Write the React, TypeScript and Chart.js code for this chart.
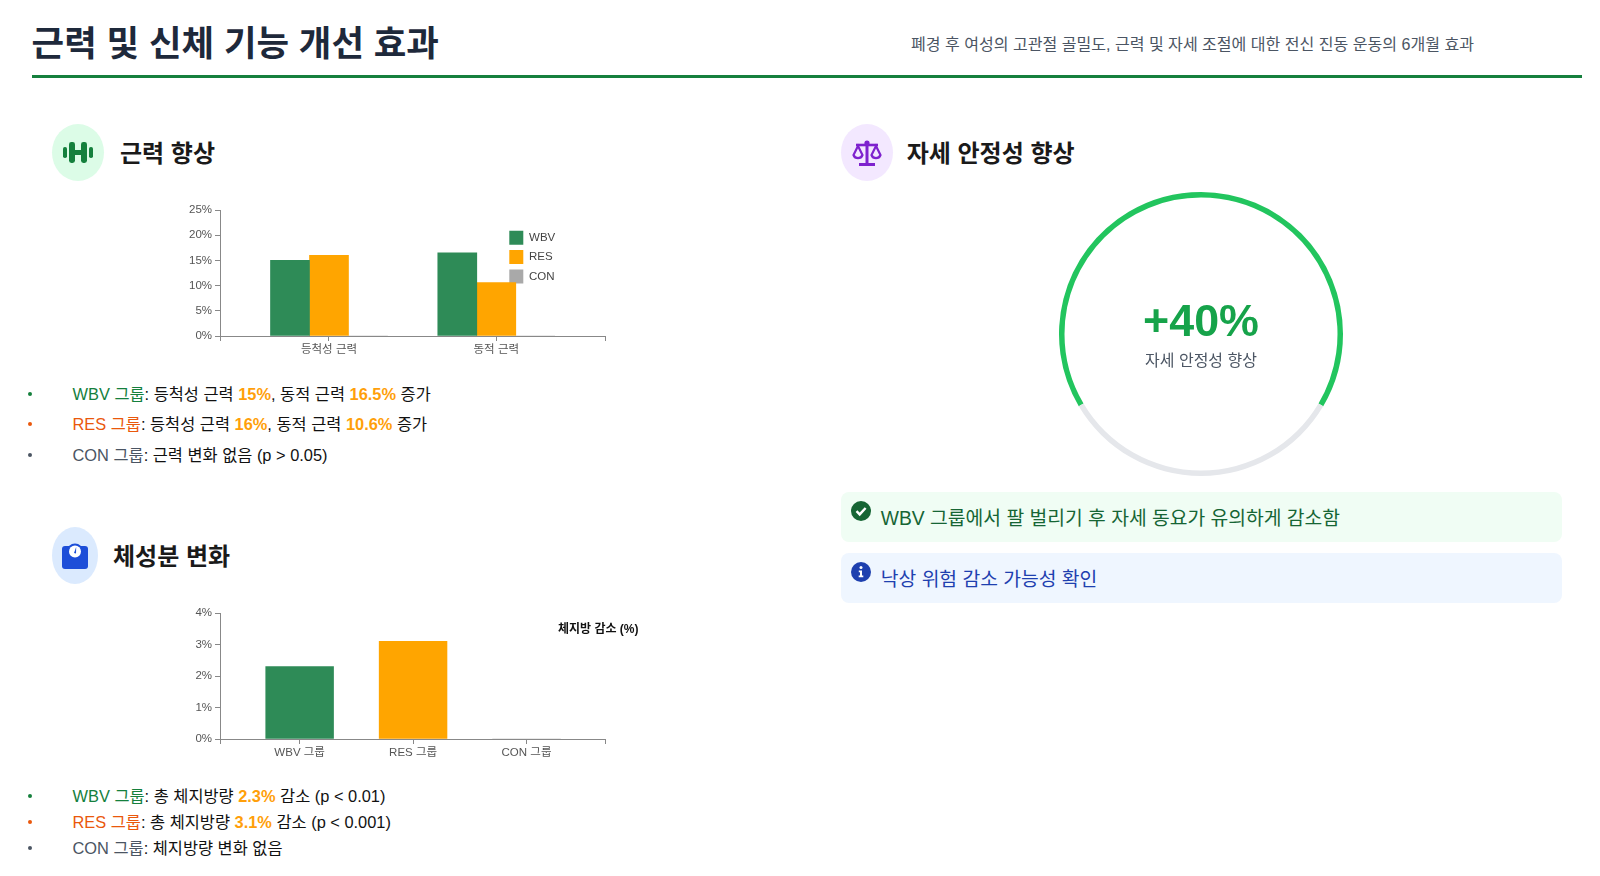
import { useEffect, useRef } from "react";
import type { CSSProperties, ReactNode } from "react";
import { Chart, registerables } from "chart.js";

Chart.register(...registerables);

const FONT = '"Liberation Sans", "Noto Sans CJK KR", sans-serif';

const strengthCategories = ["등척성 근력", "동적 근력"];
const strengthWbv = [15, 16.5];
const strengthRes = [16, 10.6];
const strengthCon = [0, 0];
const strengthTicks = [0, 5, 10, 15, 20, 25];

const fatGroups = ["WBV 그룹", "RES 그룹", "CON 그룹"];
const fatLoss = [2.3, 3.1, 0];
const fatTicks = [0, 1, 2, 3, 4];

const ringLabels = ["향상", "나머지"];
const ringValues = [67, 33];

const GREEN = "#2E8B57";
const ORANGE = "#FFA500";
const GREY = "#A9A9A9";

// moves the legend to a fixed spot inside the canvas
const legendAt = (left: number, top: number) => ({
  id: "legendAt",
  afterLayout(chart: any) {
    const lg = chart.legend;
    lg.left = left;
    lg.top = top;
    lg.right = chart.width;
    lg.bottom = chart.height;
  },
});

// shared axis setup: linear x so the bands can sit inset from the axis ends
function axes(labels: string[], min: number, max: number, yTicks: number[]) {
  return {
    x: {
      type: "linear",
      min,
      max,
      offset: false,
      afterFit: (s: any) => {
        s.height = 34;
      },
      afterBuildTicks: (s: any) => {
        s.ticks = [min, ...labels.map((_, i) => i), max].map((value) => ({ value }));
      },
      border: { color: "#888888", width: 1 },
      grid: { offset: false, drawOnChartArea: false, tickLength: 5, color: "#888888" },
      ticks: {
        autoSkip: false,
        maxRotation: 0,
        color: "#555555",
        padding: 2,
        font: { family: FONT, size: 11.5 },
        callback: (v: number) => labels[v] ?? "",
      },
    },
    y: {
      min: yTicks[0],
      max: yTicks[yTicks.length - 1],
      afterFit: (s: any) => {
        s.width = 60;
      },
      afterBuildTicks: (s: any) => {
        s.ticks = yTicks.map((value) => ({ value }));
      },
      border: { color: "#888888", width: 1 },
      grid: { drawOnChartArea: false, tickLength: 5, color: "#888888" },
      ticks: {
        color: "#555555",
        padding: 3,
        font: { family: FONT, size: 11.5 },
        callback: (v: number) => v + "%",
      },
    },
  };
}

function useChart(make: (el: HTMLCanvasElement) => Chart) {
  const ref = useRef<HTMLCanvasElement | null>(null);
  useEffect(() => {
    if (!ref.current) return;
    const chart = make(ref.current);
    return () => chart.destroy();
  }, []);
  return ref;
}

function StrengthChart() {
  const ref = useChart(
    (el) =>
      new Chart(el, {
        type: "bar",
        data: {
          datasets: [
            { label: "WBV", data: strengthWbv.map((y, x) => ({ x, y })), backgroundColor: GREEN },
            { label: "RES", data: strengthRes.map((y, x) => ({ x, y })), backgroundColor: ORANGE },
            { label: "CON", data: strengthCon.map((y, x) => ({ x, y })), backgroundColor: GREY },
          ],
        },
        options: {
          animation: false,
          responsive: false,
          layout: { padding: { top: 20, right: 54.3, left: 0, bottom: 0 } },
          datasets: { bar: { barThickness: 39 } },
          plugins: {
            tooltip: { enabled: false },
            legend: {
              position: "chartArea",
              align: "start",
              labels: {
                boxWidth: 14,
                boxHeight: 14,
                padding: 5.3,
                color: "#444444",
                font: { family: FONT, size: 11.5 },
              },
            },
          },
          scales: axes(strengthCategories, -0.6515, 1.654, strengthTicks),
        },
        plugins: [legendAt(344, 35.5)],
      } as any)
  );
  return (
    <canvas
      ref={ref}
      width={500}
      height={180}
      style={{ position: "absolute", left: 160, top: 190, width: 500, height: 180 }}
    />
  );
}

function FatChart() {
  const ref = useChart(
    (el) =>
      new Chart(el, {
        type: "bar",
        data: {
          datasets: [
            {
              label: "체지방 감소 (%)",
              data: fatLoss.map((y, x) => ({ x, y })),
              backgroundColor: [GREEN, ORANGE, GREY],
            },
          ],
        },
        options: {
          animation: false,
          responsive: false,
          layout: { padding: { top: 20, right: 54.3, left: 0, bottom: 0 } },
          datasets: { bar: { barThickness: 67.8 } },
          plugins: {
            tooltip: { enabled: false },
            legend: {
              position: "chartArea",
              align: "start",
              labels: {
                boxWidth: 0,
                padding: 5,
                color: "#111111",
                font: { family: FONT, size: 12, weight: "bold" },
              },
            },
          },
          scales: axes(fatGroups, -0.702, 2.698, fatTicks),
        },
        plugins: [legendAt(387, 26)],
      } as any)
  );
  return (
    <canvas
      ref={ref}
      width={500}
      height={180}
      style={{ position: "absolute", left: 160, top: 593.3, width: 500, height: 180 }}
    />
  );
}

function RingChart() {
  const ref = useChart(
    (el) =>
      new Chart(el, {
        type: "doughnut",
        data: {
          labels: ringLabels,
          datasets: [{ data: ringValues, backgroundColor: ["#22c55e", "#e5e7eb"], borderWidth: 0 }],
        },
        options: {
          animation: false,
          responsive: false,
          rotation: -120.6,
          cutout: 136.5,
          layout: { padding: 0 },
          plugins: { legend: { display: false }, tooltip: { enabled: false } },
        },
      } as any)
  );
  return (
    <canvas
      ref={ref}
      width={284}
      height={284}
      style={{ position: "absolute", left: 1059, top: 191.7, width: 284, height: 284 }}
    />
  );
}

function Text({
  x,
  cy,
  size,
  color,
  bold,
  center,
  children,
}: {
  x: number;
  cy: number;
  size: number;
  color: string;
  bold?: boolean;
  center?: boolean;
  children: ReactNode;
}) {
  const style: CSSProperties = {
    position: "absolute",
    left: x,
    top: cy - 20,
    height: 40,
    lineHeight: "40px",
    fontSize: size,
    color,
    fontWeight: bold ? 700 : 400,
    whiteSpace: "nowrap",
    transform: center ? "translateX(-50%)" : undefined,
  };
  return <div style={style}>{children}</div>;
}

function Badge({
  x,
  y,
  w,
  bg,
  children,
}: {
  x: number;
  y: number;
  w: number;
  bg: string;
  children: ReactNode;
}) {
  return (
    <div
      style={{
        position: "absolute",
        left: x,
        top: y,
        width: w,
        height: 57,
        borderRadius: "50%",
        background: bg,
        display: "flex",
        alignItems: "center",
        justifyContent: "center",
      }}
    >
      {children}
    </div>
  );
}

function Bullet({ cy, color, label, children }: { cy: number; color: string; label: string; children: ReactNode }) {
  return (
    <>
      <div
        style={{
          position: "absolute",
          left: 28,
          top: cy - 2,
          width: 4,
          height: 4,
          borderRadius: "50%",
          background: color,
        }}
      />
      <Text x={72.5} cy={cy} size={16.4} color="#111111">
        <span style={{ color }}>{label}</span>
        {children}
      </Text>
    </>
  );
}

const Hi = ({ children }: { children: ReactNode }) => (
  <b style={{ color: "#FF9F0A" }}>{children}</b>
);

const Dumbbell = () => (
  <svg width="30" height="21" viewBox="0 0 30 21" fill="#15803d">
    <rect x="0" y="5" width="4" height="11" rx="1.8" />
    <rect x="6" y="0" width="6" height="21" rx="2.4" />
    <rect x="11" y="8" width="8" height="5" />
    <rect x="18" y="0" width="6" height="21" rx="2.4" />
    <rect x="26" y="5" width="4" height="11" rx="1.8" />
  </svg>
);

const WeightScale = () => (
  <svg width="26" height="26" viewBox="0 0 26 26">
    <path d="M3 3h20a3 3 0 0 1 3 3v17a3 3 0 0 1-3 3H3a3 3 0 0 1-3-3V6a3 3 0 0 1 3-3z" fill="#1d4ed8" />
    <circle cx="13" cy="8.5" r="8" fill="#1d4ed8" />
    <circle cx="13" cy="8.5" r="6" fill="#ffffff" />
    <path d="M14.2 4 L12 10 L14 10.6 Z" fill="#1d4ed8" />
  </svg>
);

const Balance = () => (
  <svg width="30" height="26" viewBox="0 0 30 26" fill="none" stroke="#7e22ce" strokeWidth="2.2">
    <path d="M4 5h22" strokeWidth="2.6" />
    <path d="M15 1v22" strokeWidth="3" />
    <path d="M7 24.5h16" strokeWidth="3" />
    <circle cx="15" cy="3" r="2.6" fill="#7e22ce" stroke="none" />
    <path d="M6 6 L1.5 15 a4.8 4.8 0 0 0 9 0 Z" />
    <path d="M24 6 L19.5 15 a4.8 4.8 0 0 0 9 0 Z" />
  </svg>
);

const CheckDot = () => (
  <svg width="20" height="20" viewBox="0 0 20 20">
    <circle cx="10" cy="10" r="10" fill="#166534" />
    <path d="M5.5 10.2 L8.7 13.4 L14.6 7" fill="none" stroke="#ffffff" strokeWidth="2.4" />
  </svg>
);

const InfoDot = () => (
  <svg width="20" height="20" viewBox="0 0 20 20">
    <circle cx="10" cy="10" r="10" fill="#1e40af" />
    <circle cx="10" cy="5.6" r="1.5" fill="#ffffff" />
    <path d="M7.8 8.6h3.2v5h1.3v1.6H7.7v-1.6H9v-3.4H7.8z" fill="#ffffff" />
  </svg>
);

function Callout({ top, h, bg, color, icon, cy, children }: any) {
  return (
    <>
      <div
        style={{
          position: "absolute",
          left: 840.7,
          top,
          width: 721.5,
          height: h,
          borderRadius: 8,
          background: bg,
        }}
      />
      <div style={{ position: "absolute", left: 850.5, top: cy - 14, width: 20, height: 20 }}>{icon}</div>
      <Text x={880.8} cy={cy + 4} size={19.3} color={color}>
        {children}
      </Text>
    </>
  );
}

export default function App() {
  return (
    <div
      style={{
        position: "absolute",
        left: 0,
        top: 0,
        width: 1600,
        height: 876,
        overflow: "hidden",
        background: "#ffffff",
        fontFamily: FONT,
      }}
    >
      <Text x={31.6} cy={44} size={35.4} color="#1e293b" bold>
        근력 및 신체 기능 개선 효과
      </Text>
      <Text x={911} cy={44} size={16.06} color="#4b5563">
        폐경 후 여성의 고관절 골밀도, 근력 및 자세 조절에 대한 전신 진동 운동의 6개월 효과
      </Text>
      <div style={{ position: "absolute", left: 31.6, top: 74.5, width: 1550.4, height: 3, background: "#15803d" }} />

      <Badge x={52} y={124} w={52} bg="#dcfce7">
        <Dumbbell />
      </Badge>
      <Text x={120} cy={154} size={24} color="#1a1a1a" bold>
        근력 향상
      </Text>
      <StrengthChart />
      <Bullet cy={393.5} color="#15803d" label="WBV 그룹">
        : 등척성 근력 <Hi>15%</Hi>, 동적 근력 <Hi>16.5%</Hi> 증가
      </Bullet>
      <Bullet cy={424} color="#ea580c" label="RES 그룹">
        : 등척성 근력 <Hi>16%</Hi>, 동적 근력 <Hi>10.6%</Hi> 증가
      </Bullet>
      <Bullet cy={454.5} color="#4b5563" label="CON 그룹">
        : 근력 변화 없음 (p &gt; 0.05)
      </Bullet>

      <Badge x={52} y={527} w={46} bg="#dbeafe">
        <WeightScale />
      </Badge>
      <Text x={113} cy={557} size={24} color="#1a1a1a" bold>
        체성분 변화
      </Text>
      <FatChart />
      <Bullet cy={796.2} color="#15803d" label="WBV 그룹">
        : 총 체지방량 <Hi>2.3%</Hi> 감소 (p &lt; 0.01)
      </Bullet>
      <Bullet cy={821.8} color="#ea580c" label="RES 그룹">
        : 총 체지방량 <Hi>3.1%</Hi> 감소 (p &lt; 0.001)
      </Bullet>
      <Bullet cy={847.5} color="#4b5563" label="CON 그룹">
        : 체지방량 변화 없음
      </Bullet>

      <Badge x={840.7} y={124} w={52} bg="#f3e8ff">
        <Balance />
      </Badge>
      <Text x={906.7} cy={154} size={24} color="#1a1a1a" bold>
        자세 안정성 향상
      </Text>
      <RingChart />
      <Text x={1201} cy={320} size={44.8} color="#16a34a" bold center>
        +40%
      </Text>
      <Text x={1201} cy={361} size={16} color="#4b5563" center>
        자세 안정성 향상
      </Text>

      <Callout top={491.7} h={50.3} bg="#f0fdf4" color="#166534" icon={<CheckDot />} cy={515}>
        WBV 그룹에서 팔 벌리기 후 자세 동요가 유의하게 감소함
      </Callout>
      <Callout top={552.7} h={50.3} bg="#eff6ff" color="#1e40af" icon={<InfoDot />} cy={576}>
        낙상 위험 감소 가능성 확인
      </Callout>
    </div>
  );
}
